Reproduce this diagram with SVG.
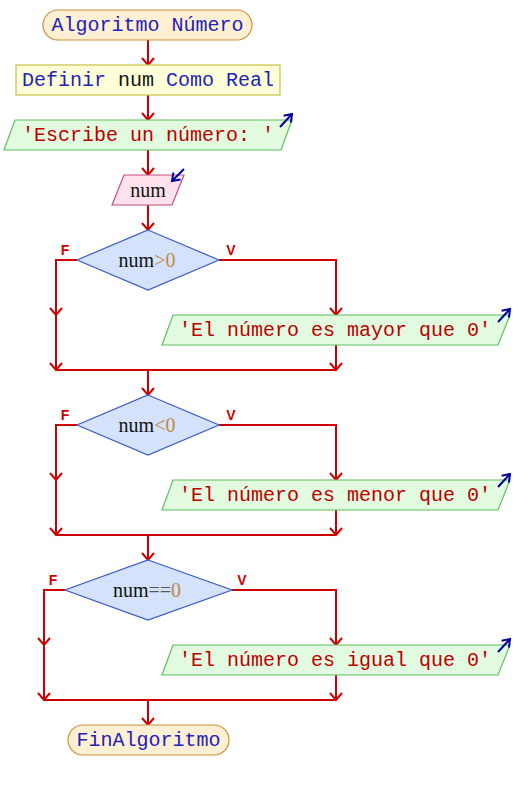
<svg xmlns="http://www.w3.org/2000/svg" width="514" height="790" viewBox="0 0 514 790">
<defs>
<style>
.mono{font-family:"Liberation Mono","DejaVu Sans Mono",monospace;font-size:20px;text-anchor:middle}
.serif{font-family:"Liberation Serif","DejaVu Serif",serif;font-size:20px;text-anchor:middle}
.kw{fill:#2222bb}
.var{fill:#111111}
.str{fill:#bb0000}
.num{fill:#c08a40}
.term{fill:#fff0d4;stroke:#c8903c;stroke-width:1.2}
.def{fill:#ffffd8;stroke:#c8c048;stroke-width:1.2}
.out{fill:#e2fbe0;stroke:#5cc05c;stroke-width:1.2}
.inp{fill:#ffe2ee;stroke:#c05080;stroke-width:1.2}
.dec{fill:#d4e2fc;stroke:#3a5cc4;stroke-width:1.2}
.lbl{font-family:"Liberation Sans",Arial,sans-serif;font-size:14px;font-weight:bold;fill:#cc0000;text-anchor:middle}
.c{fill:none;stroke:#cc0000;stroke-width:2}
.io{fill:none;stroke:#000099;stroke-width:2}
</style>
<marker id="ah" markerUnits="userSpaceOnUse" markerWidth="20" markerHeight="20" refX="0" refY="0" orient="auto" overflow="visible" viewBox="-10 -10 20 20">
<path d="M-7,-6 L0,0 L-7,6" fill="none" stroke="#cc0000" stroke-width="2"/>
</marker>
<marker id="ab" markerUnits="userSpaceOnUse" markerWidth="20" markerHeight="20" refX="0" refY="0" orient="auto" overflow="visible" viewBox="-10 -10 20 20">
<path d="M-7,-5 L0,0 L-7,5" fill="none" stroke="#000099" stroke-width="2"/>
</marker>
</defs>
<rect width="514" height="790" fill="#ffffff"/>
<g id="connectors">
<path class="c" d="M148,40 V65" marker-end="url(#ah)"/>
<path class="c" d="M148,95 V120" marker-end="url(#ah)"/>
<path class="c" d="M148,150 V175" marker-end="url(#ah)"/>
<path class="c" d="M148,205 V230" marker-end="url(#ah)"/>
<path class="c" d="M77,260 H56 V315" marker-end="url(#ah)"/>
<path class="c" d="M56,315 V370" marker-end="url(#ah)"/>
<path class="c" d="M219,260 H336 V315" marker-end="url(#ah)"/>
<path class="c" d="M336,345 V370" marker-end="url(#ah)"/>
<path class="c" d="M56,370 H336"/>
<path class="c" d="M148,370 V395" marker-end="url(#ah)"/>
<path class="c" d="M77,425 H56 V480" marker-end="url(#ah)"/>
<path class="c" d="M56,480 V535" marker-end="url(#ah)"/>
<path class="c" d="M219,425 H336 V480" marker-end="url(#ah)"/>
<path class="c" d="M336,510 V535" marker-end="url(#ah)"/>
<path class="c" d="M56,535 H336"/>
<path class="c" d="M148,535 V560" marker-end="url(#ah)"/>
<path class="c" d="M65,590 H44 V645" marker-end="url(#ah)"/>
<path class="c" d="M44,645 V700" marker-end="url(#ah)"/>
<path class="c" d="M232,590 H336 V645" marker-end="url(#ah)"/>
<path class="c" d="M336,675 V700" marker-end="url(#ah)"/>
<path class="c" d="M44,700 H336"/>
<path class="c" d="M148,700 V725" marker-end="url(#ah)"/>
<text class="lbl" x="65" y="255">F</text>
<text class="lbl" x="231" y="255">V</text>
<text class="lbl" x="65" y="420">F</text>
<text class="lbl" x="231" y="420">V</text>
<text class="lbl" x="53" y="585">F</text>
<text class="lbl" x="242" y="585">V</text>
</g>
<g id="start">
<rect class="term" x="43" y="10" width="209" height="30" rx="15" ry="15"/>
<text class="mono kw" x="147.5" y="31">Algoritmo Número</text>
</g>
<g id="define">
<rect class="def" x="16" y="65" width="264" height="30"/>
<text class="mono" x="148" y="86"><tspan class="kw">Definir </tspan><tspan class="var">num</tspan><tspan class="kw"> Como Real</tspan></text>
</g>
<g id="write1">
<polygon class="out" points="15,120 292,120 281,150 4,150"/>
<text class="mono str" x="148" y="141">'Escribe un número: '</text>
<path class="io" d="M280,127 L292,114" marker-end="url(#ab)"/>
</g>
<g id="read">
<polygon class="inp" points="124,175 184,175 172,205 112,205"/>
<text class="serif var" x="148" y="197">num</text>
<path class="io" d="M184,169 L172,181" marker-end="url(#ab)"/>
</g>
<g id="cond1">
<polygon class="dec" points="148,230 219,260 148,290 77,260"/>
<text class="serif" x="147" y="267"><tspan class="var">num</tspan><tspan class="num">&gt;0</tspan></text>
</g>
<g id="write2">
<polygon class="out" points="173,315 510,315 498,345 162,345"/>
<text class="mono str" x="335" y="336">'El número es mayor que 0'</text>
<path class="io" d="M498,322 L510,309" marker-end="url(#ab)"/>
</g>
<g id="cond2">
<polygon class="dec" points="148,395 219,425 148,455 77,425"/>
<text class="serif" x="147" y="432"><tspan class="var">num</tspan><tspan class="num">&lt;0</tspan></text>
</g>
<g id="write3">
<polygon class="out" points="173,480 510,480 498,510 162,510"/>
<text class="mono str" x="335" y="501">'El número es menor que 0'</text>
<path class="io" d="M498,487 L510,474" marker-end="url(#ab)"/>
</g>
<g id="cond3">
<polygon class="dec" points="148,560 232,590 148,620 65,590"/>
<text class="serif" x="147" y="597"><tspan class="var">num</tspan><tspan fill="#555555">==</tspan><tspan class="num">0</tspan></text>
</g>
<g id="write4">
<polygon class="out" points="173,645 510,645 498,675 162,675"/>
<text class="mono str" x="335" y="666">'El número es igual que 0'</text>
<path class="io" d="M498,652 L510,639" marker-end="url(#ab)"/>
</g>
<g id="end">
<rect class="term" x="68" y="725" width="161" height="30" rx="15" ry="15"/>
<text class="mono kw" x="148.5" y="746">FinAlgoritmo</text>
</g>
</svg>
